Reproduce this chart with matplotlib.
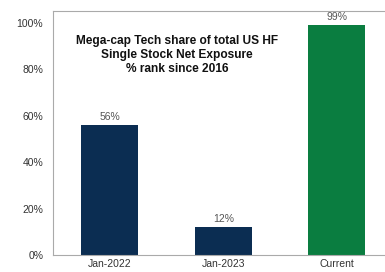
import matplotlib
matplotlib.use('Agg')
import matplotlib.pyplot as plt
from matplotlib.ticker import FuncFormatter

categories = ['Jan-2022', 'Jan-2023', 'Current']
values = [56, 12, 99]
colors = ['#0b2d52', '#0b2d52', '#0a7d40']
title = 'Mega-cap Tech share of total US HF\nSingle Stock Net Exposure\n% rank since 2016'

plt.rcParams['font.family'] = ['Liberation Sans', 'DejaVu Sans']

fig = plt.figure(figsize=(3.85, 2.72), dpi=100)
ax = fig.add_axes([53 / 385, 17 / 272, 1 - 53 / 385, 244 / 272])

x = range(len(categories))
bars = ax.bar(x, values, width=0.5, color=colors)

for xi, v in zip(x, values):
    ax.text(xi, v + 1.2, f'{v}%', ha='center', va='bottom', fontsize=7.5, color='#555555')

ax.set_xlim(-0.5, 2.425)
ax.set_ylim(0, 105)
ax.set_yticks([0, 20, 40, 60, 80, 100])
ax.yaxis.set_major_formatter(FuncFormatter(lambda v, p: f'{v:.0f}%'))
ax.set_xticks(list(x))
ax.set_xticklabels(categories)
ax.tick_params(axis='both', length=0, labelsize=7.5, colors='#333333')
ax.tick_params(axis='y', pad=7)
ax.tick_params(axis='x', pad=3)

for side in ['left', 'top', 'bottom']:
    ax.spines[side].set_color('#aaaaaa')
    ax.spines[side].set_linewidth(0.8)
ax.spines['right'].set_visible(False)

ax.text(0.373, 0.82, title, transform=ax.transAxes, ha='center', va='center',
        fontsize=8.6, fontweight='bold', color='#111111', linespacing=1.25)

fig.savefig('out.png', dpi=100)
